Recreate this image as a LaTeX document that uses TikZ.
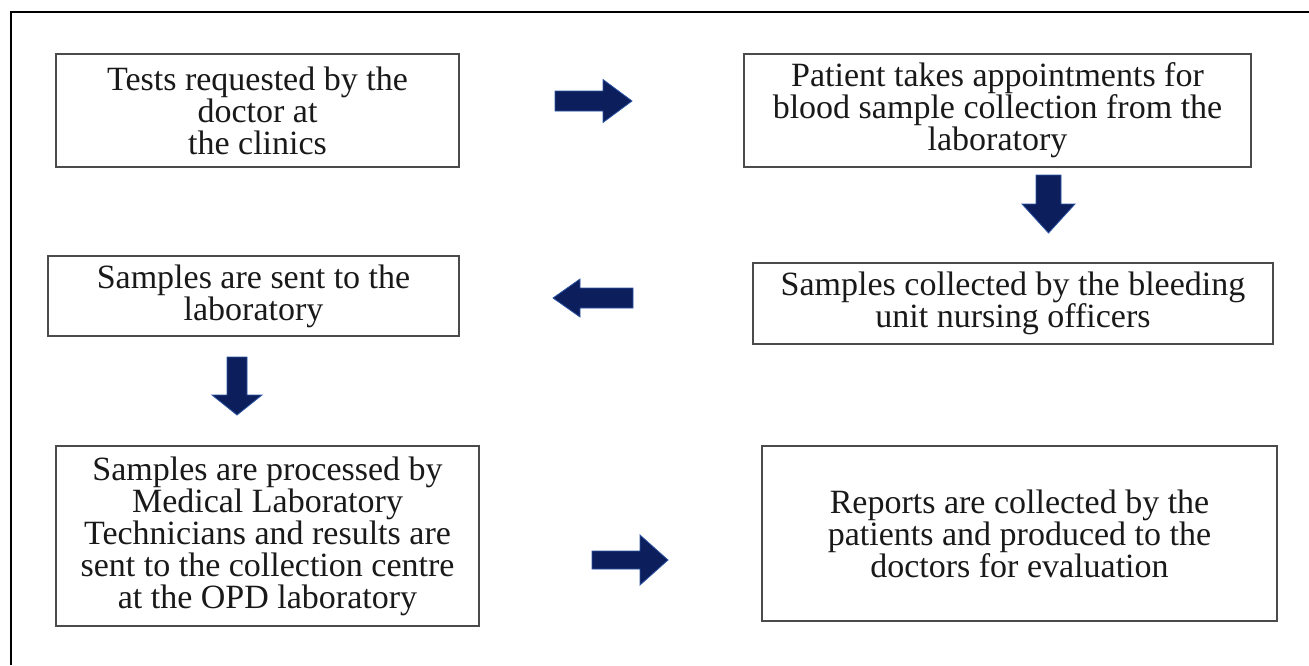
\documentclass[tikz,border=0pt]{standalone}
\usepackage{fontspec}
\setmainfont{Liberation Serif}
\definecolor{navyfill}{RGB}{12,30,92}
\definecolor{navyedge}{RGB}{45,85,165}
\definecolor{boxline}{RGB}{75,75,75}
\definecolor{boxtext}{RGB}{25,25,25}
\newcommand{\blockarrowat}[6]{% #1 centre, #2 rotation, #3 half length, #4 shaft half width, #5 head half width, #6 head length
  \draw[blockarrow, shift={(#1)}, rotate=#2]
    (-#3,-#4) -- ({#3-#6},-#4) -- ({#3-#6},-#5) -- (#3,0) -- ({#3-#6},#5) -- ({#3-#6},#4) -- (-#3,#4) -- cycle;}
\begin{document}
\begin{tikzpicture}[x=1pt,y=-1pt,
  box/.style={draw=boxline, line width=1.6pt, align=center, inner sep=0pt,
    font=\fontsize{34}{32}\selectfont, text=boxtext},
  blockarrow/.style={fill=navyfill, draw=navyedge, line width=0.8pt, line join=miter},
  frameline/.style={line width=2.2pt, draw=black}]
\useasboundingbox (0,0) rectangle (1309,665);
\draw[frameline] (11,665) -- (11,12) -- (1309,12);

\node[box, minimum width=403, minimum height=113] (A) at (257.5,110.5)
  {Tests requested by the\\doctor at\\the clinics};
\node[box, minimum width=507, minimum height=113] (B) at (997.5,110.5)
  {Patient takes appointments for\\blood sample collection from the\\laboratory};
\node[box, minimum width=520, minimum height=81] (C) at (1013,303.5)
  {Samples collected by the bleeding\\unit nursing officers};
\node[box, minimum width=411, minimum height=80] (D) at (253.5,296)
  {Samples are sent to the\\laboratory};
\node[box, minimum width=423, minimum height=180] (E) at (267.5,536)
  {Samples are processed by\\Medical Laboratory\\Technicians and results are\\sent to the collection centre\\at the OPD laboratory};
\node[box, minimum width=515, minimum height=175] (F) at (1019.5,533.5)
  {Reports are collected by the\\patients and produced to the\\doctors for evaluation};

\coordinate (AB) at (593.5,101);
\coordinate (BC) at (1048.5,204);
\coordinate (CD) at (593,298);
\coordinate (DE) at (237,386);
\coordinate (EF) at (630,560);

\blockarrowat{AB}{0}{38.5}{10}{21.5}{29}
\blockarrowat{BC}{-90}{29}{12.5}{26.5}{29}
\blockarrowat{CD}{180}{40}{10}{19}{27}
\blockarrowat{DE}{-90}{29}{10}{25}{20}
\blockarrowat{EF}{0}{38}{9}{25}{28}
\end{tikzpicture}
\end{document}
